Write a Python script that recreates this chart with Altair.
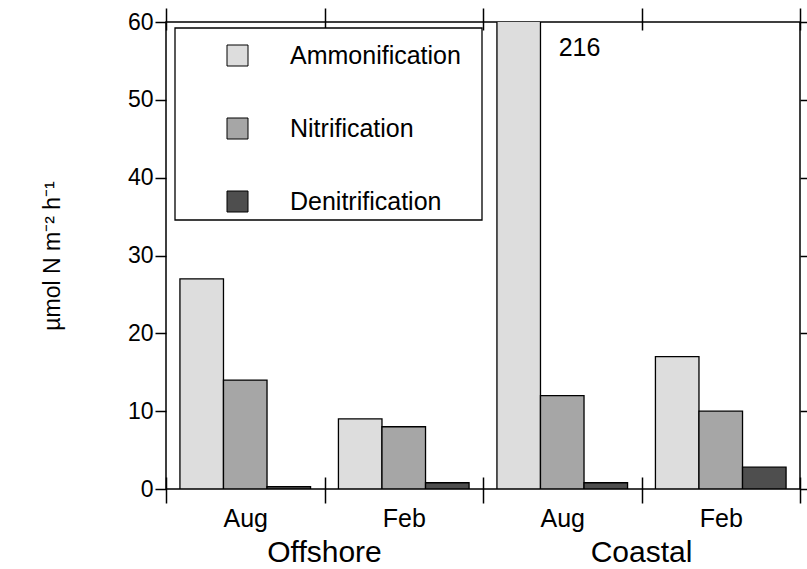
import altair as alt
import pandas as pd

# Nitrogen transformation rates by site and season
sites = ["Offshore", "Coastal"]
months = ["Aug", "Feb"]
processes = ["Ammonification", "Nitrification", "Denitrification"]
ammonification = [27, 9, 216, 17]
nitrification = [14, 8, 12, 10]
denitrification = [0.3, 0.8, 0.8, 2.8]
y_ticks = [0, 10, 20, 30, 40, 50, 60]
fills = ["#dddddd", "#a6a6a6", "#4e4e4e"]

groups = [f"{s} {m}" for s in sites for m in months]
rows = []
for i, g in enumerate(groups):
    for p, vals in zip(processes, [ammonification, nitrification, denitrification]):
        rows.append({"grp": g, "process": p, "value": vals[i]})
df = pd.DataFrame(rows)
site_df = pd.DataFrame({"site": sites, "grp": [f"{s} {months[1]}" for s in sites]})

FONT = "Liberation Sans, Arial, Helvetica, sans-serif"
W, H = 634, 467

x_scale = alt.Scale(domain=groups, paddingInner=0, paddingOuter=0)
xo_scale = alt.Scale(domain=processes, paddingInner=0, paddingOuter=0.32)
y_scale = alt.Scale(domain=[0, 60], nice=False, zero=True)

# Frame around the legend
legend_box = alt.Chart(pd.DataFrame({"k": [0]})).mark_rect(
    fill="white", stroke="black", strokeWidth=1.3
).encode(
    x=alt.value(9), x2=alt.value(316), y=alt.value(6), y2=alt.value(198)
)

bars = alt.Chart(df).mark_bar(stroke="black", strokeWidth=1.3, clip=True).encode(
    x=alt.X("grp:N", scale=x_scale, title=None,
            axis=alt.Axis(orient="bottom", domain=False, grid=False, tickBand="extent",
                          tickSize=26, offset=-12, tickWidth=1.5, tickColor="black",
                          labelExpr="split(datum.label, ' ')[1]", labelAngle=0,
                          labelFontSize=25, labelPadding=3, labelColor="black")),
    xOffset=alt.XOffset("process:N", scale=xo_scale),
    y=alt.Y("value:Q", scale=y_scale,
            axis=alt.Axis(orient="left", values=y_ticks, domain=False, grid=False,
                          tickSize=11, tickWidth=1.5, tickColor="black",
                          labelFontSize=23, labelPadding=2, labelColor="black",
                          title="µmol N m⁻² h⁻¹", titleFontSize=23, titleFontWeight="normal",
                          titleColor="black", titleX=-114, titleY=H / 2,
                          titleAlign="center", titleBaseline="middle", titleAngle=-90)),
    color=alt.Color("process:N", scale=alt.Scale(domain=processes, range=fills),
                    legend=alt.Legend(orient="none", legendX=59, legendY=21, title=None,
                                      symbolType="square", symbolSize=441,
                                      symbolStrokeColor="black", symbolStrokeWidth=1,
                                      labelFontSize=25, labelOffset=40, labelLimit=300,
                                      rowPadding=47, padding=0, labelColor="black")),
)

# Value of the bar that runs off the top of the scale
off_scale = alt.Chart(df).transform_filter("datum.value > 60").mark_text(
    align="left", baseline="middle", dx=40, dy=26, fontSize=25, color="black"
).encode(
    x=alt.X("grp:N", scale=x_scale, title=None,
            axis=alt.Axis(orient="top", domain=False, grid=False, tickBand="extent",
                          tickSize=22, offset=-8, tickWidth=1.5, tickColor="black",
                          labels=False)),
    xOffset=alt.XOffset("process:N", scale=xo_scale),
    y=alt.YDatum(60, scale=y_scale,
                 axis=alt.Axis(orient="right", values=y_ticks, domain=False, grid=False,
                               tickSize=10, tickWidth=1.5, tickColor="black",
                               labels=False, title=None)),
    text=alt.Text("value:Q"),
)

site_labels = alt.Chart(site_df).mark_text(
    baseline="middle", fontSize=30, color="black"
).encode(
    x=alt.X("grp:N", scale=x_scale, bandPosition=0, axis=None),
    y=alt.value(531),
    text="site:N",
)

chart = alt.layer(legend_box, bars, off_scale, site_labels).resolve_axis(
    x="independent", y="independent"
).properties(
    width=W, height=H,
    autosize=alt.AutoSizeParams(type="none"),
    padding={"left": 166, "top": 22, "right": 7, "bottom": 80},
).configure(font=FONT).configure_view(stroke="black", strokeWidth=1.5)

chart.save("out.html", embed_options={"renderer": "svg", "actions": False})
